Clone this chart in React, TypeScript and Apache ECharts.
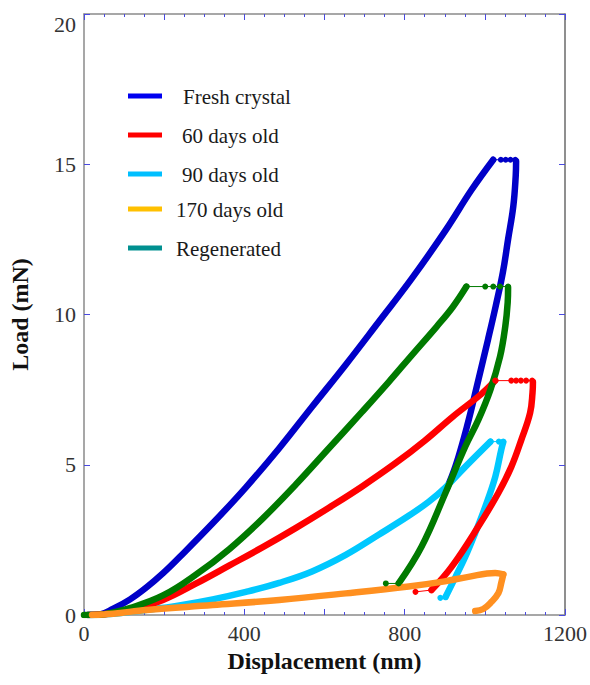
import React, { useEffect, useRef } from "react";
import * as echarts from "echarts";

// Axis settings
const xTickLabels = [0, 400, 800, 1200];
const yTickLabels = [0, 5, 10, 15, 20];
const xAxisTitle = "Displacement (nm)";
const yAxisTitle = "Load (mN)";

// Legend entries
const legendNames = ["Fresh crystal", "60 days old", "90 days old", "170 days old", "Regenerated"];
const legendColors = ["#0000f0", "#ff0000", "#00bfff", "#ffc000", "#009090"];

// Fresh crystal
const freshLoad = [[10, 0], [40, 0.02], [72, 0.2], [115, 0.52], [157, 0.93], [198, 1.4], [238, 1.92], [321, 3.05], [404, 4.25], [487, 5.55], [569, 6.93], [653, 8.33], [735, 9.75], [818, 11.2], [902, 12.8], [967, 14.15], [1021, 15.15]];
const freshHold = [[1021, 15.15], [1040, 15.15], [1052, 15.15], [1064, 15.15], [1076, 15.15]];
const freshUnload = [[1078, 15.1], [1077, 14.6], [1071, 13.6], [1058, 12.5], [1045, 11.4], [1027, 10.27], [1008, 9.17], [984, 7.83], [956, 6.3], [928, 5.0], [904, 4.17]];

// 60 days old
const d60Load = [[10, 0], [60, 0.04], [120, 0.18], [197, 0.5], [280, 1.05], [363, 1.65], [445, 2.25], [529, 2.9], [611, 3.57], [693, 4.27], [777, 5.05], [850, 5.8], [920, 6.6], [991, 7.35], [1026, 7.8]];
const d60Hold = [[1026, 7.8], [1066, 7.8], [1078, 7.8], [1090, 7.8], [1103, 7.8], [1118, 7.8]];
const d60Unload = [[1120, 7.75], [1119, 7.4], [1113, 6.73], [1091, 5.83], [1066, 4.93], [1034, 4.07], [984, 2.95], [917, 1.6], [867, 0.83]];
const d60Tail = [[867, 0.83], [827, 0.77]];

// 90 days old
const d90Load = [[10, 0], [80, 0.05], [157, 0.17], [238, 0.32], [321, 0.52], [404, 0.77], [487, 1.07], [569, 1.45], [653, 2.0], [735, 2.67], [810, 3.3], [860, 3.77], [902, 4.25], [951, 4.93], [1014, 5.77]];
const d90Hold = [[1014, 5.77], [1035, 5.77], [1046, 5.77]];
const d90Unload = [[1046, 5.75], [1041, 5.5], [1026, 4.6], [1001, 3.6], [976, 2.73], [951, 1.93], [927, 1.27], [902, 0.6]];
const d90Tail = [[902, 0.6], [889, 0.57]];

// 170 days old
const d170Load = [[20, 0], [72, 0.04], [157, 0.17], [321, 0.33], [487, 0.5], [653, 0.72], [810, 0.95], [900, 1.12], [959, 1.27], [1026, 1.4], [1046, 1.35]];
const d170Unload = [[1046, 1.35], [1041, 1.07], [1034, 0.73], [1016, 0.43], [996, 0.2], [976, 0.13]];

// Regenerated
const regenLoad = [[0, 0], [30, 0], [60, 0.05], [114, 0.23], [197, 0.65], [280, 1.35], [363, 2.2], [445, 3.2], [529, 4.35], [611, 5.55], [693, 6.75], [760, 7.75], [818, 8.65], [880, 9.6], [920, 10.25], [954, 10.93]];
const regenHold = [[954, 10.93], [1001, 10.93], [1021, 10.93], [1038, 10.93], [1058, 10.93]];
const regenUnload = [[1058, 10.9], [1057, 10.4], [1051, 9.6], [1038, 8.6], [1014, 7.5], [984, 6.5], [951, 5.6], [902, 4.07], [842, 2.27], [785, 1.05]];
const regenTail = [[785, 1.05], [753, 1.05]];

const curveColors = {
  fresh: "#0000c8",
  d60: "#ff0000",
  d90: "#00c8ff",
  d170: "#ff9020",
  regen: "#007a00",
};

const SERIF = "'Liberation Serif', 'DejaVu Serif', serif";
const AXIS_GRAY = "#8a8a8a";
const TICK_BLUE = "#4a4ae0";

function thick(data: number[][], color: string) {
  return {
    type: "line",
    data,
    smooth: 0.4,
    showSymbol: false,
    symbol: "none",
    lineStyle: { color, width: 6.5, cap: "round", join: "round" },
    silent: true,
  };
}

function thin(data: number[][], color: string) {
  return {
    type: "line",
    data,
    showSymbol: true,
    symbol: "circle",
    symbolSize: 6,
    itemStyle: { color },
    lineStyle: { color, width: 1 },
    silent: true,
  };
}

export default function App() {
  const ref = useRef<HTMLDivElement>(null);

  useEffect(() => {
    document.body.style.margin = "0";
    if (!ref.current) return;
    const chart = echarts.init(ref.current, undefined, { renderer: "svg" });

    const tickAxisX = (position: string, showLine: boolean) => ({
      type: "value",
      min: xTickLabels[0],
      max: xTickLabels[xTickLabels.length - 1],
      interval: 200,
      position,
      axisLine: { show: showLine, onZero: false, lineStyle: { color: AXIS_GRAY, width: 1.5 } },
      axisTick: { show: true, inside: true, length: 6, lineStyle: { color: TICK_BLUE, width: 1 } },
      minorTick: { show: true, splitNumber: 4, length: 3, lineStyle: { color: TICK_BLUE, width: 1 } },
      axisLabel: { show: false },
      splitLine: { show: false },
    });

    const legendGraphics: any[] = [];
    const legendY = [96, 135, 174, 209, 248];
    const legendTextX = [183, 182, 182, 176, 176];
    legendNames.forEach((name, i) => {
      legendGraphics.push({
        type: "line",
        shape: { x1: 128, y1: legendY[i], x2: 162, y2: legendY[i] },
        style: { stroke: legendColors[i], lineWidth: 5 },
      });
      legendGraphics.push({
        type: "text",
        x: legendTextX[i],
        y: legendY[i] + 1,
        style: {
          text: name,
          font: `21px ${SERIF}`,
          fill: "#1a1a1a",
          verticalAlign: "middle",
        },
      });
    });

    chart.setOption({
      animation: false,
      backgroundColor: "#ffffff",
      grid: { left: 84, right: 23, top: 14, bottom: 70 },
      xAxis: [
        {
          type: "value",
          min: xTickLabels[0],
          max: xTickLabels[xTickLabels.length - 1],
          interval: 400,
          position: "bottom",
          name: xAxisTitle,
          nameLocation: "middle",
          nameGap: 34,
          nameTextStyle: { fontFamily: SERIF, fontSize: 24, fontWeight: "bold", color: "#111" },
          axisLine: { show: true, onZero: false, lineStyle: { color: AXIS_GRAY, width: 1.5 } },
          axisTick: { show: false },
          axisLabel: {
            fontFamily: SERIF,
            fontSize: 22,
            color: "#333",
            margin: 7,
            formatter: (v: number) => String(v),
          },
          splitLine: { show: false },
        },
        tickAxisX("bottom", false),
        tickAxisX("top", true),
      ],
      yAxis: [
        {
          type: "value",
          min: yTickLabels[0],
          max: yTickLabels[yTickLabels.length - 1],
          interval: 5,
          position: "left",
          name: yAxisTitle,
          nameLocation: "middle",
          nameGap: 52,
          nameTextStyle: { fontFamily: SERIF, fontSize: 24, fontWeight: "bold", color: "#111" },
          axisLine: { show: true, onZero: false, lineStyle: { color: AXIS_GRAY, width: 1.5 } },
          axisTick: { show: true, inside: true, length: 6, lineStyle: { color: TICK_BLUE, width: 1 } },
          axisLabel: {
            fontFamily: SERIF,
            fontSize: 22,
            color: "#333",
            margin: 8,
            formatter: (v: number) => (v === yTickLabels[yTickLabels.length - 1] ? `{top|${v}}` : String(v)),
            rich: {
              top: { fontFamily: SERIF, fontSize: 22, color: "#333", padding: [20, 0, 0, 0] },
            },
          },
          splitLine: { show: false },
        },
        {
          type: "value",
          min: yTickLabels[0],
          max: yTickLabels[yTickLabels.length - 1],
          interval: 5,
          position: "right",
          axisLine: { show: true, onZero: false, lineStyle: { color: "#6a6a6a", width: 1.5 } },
          axisTick: { show: true, inside: true, length: 6, lineStyle: { color: TICK_BLUE, width: 1 } },
          axisLabel: { show: false },
          splitLine: { show: false },
        },
      ],
      series: [
        thick(freshLoad, curveColors.fresh),
        thin(freshHold, curveColors.fresh),
        thick(freshUnload, curveColors.fresh),
        thick(d90Load, curveColors.d90),
        thin(d90Hold, curveColors.d90),
        thick(d90Unload, curveColors.d90),
        thin(d90Tail, curveColors.d90),
        thick(d60Load, curveColors.d60),
        thin(d60Hold, curveColors.d60),
        thick(d60Unload, curveColors.d60),
        thin(d60Tail, curveColors.d60),
        thick(regenLoad, curveColors.regen),
        thin(regenHold, curveColors.regen),
        thick(regenUnload, curveColors.regen),
        thin(regenTail, curveColors.regen),
        thick(d170Load, curveColors.d170),
        thick(d170Unload, curveColors.d170),
      ],
      graphic: legendGraphics,
    });

    return () => chart.dispose();
  }, []);

  return <div ref={ref} style={{ width: 590, height: 685 }} />;
}
